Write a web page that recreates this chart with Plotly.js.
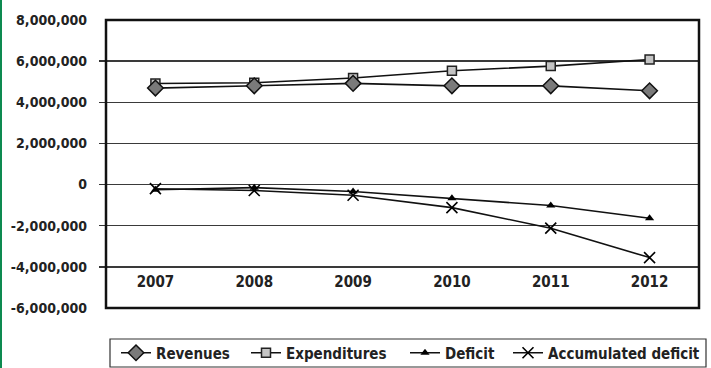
<!DOCTYPE html>
<html>
<head>
<meta charset="utf-8">
<script src="https://cdn.plot.ly/plotly-3.0.1.min.js"></script>
<style>
  html, body { margin: 0; padding: 0; background: #fff; }
  #chart { width: 711px; height: 368px; }
</style>
</head>
<body>
<div id="chart"></div>
<script>
// Budget series, 2007-2012
const years = ['2007', '2008', '2009', '2010', '2011', '2012'];
const revenues = [4690000, 4800000, 4920000, 4800000, 4800000, 4560000];
const expenditures = [4910000, 4950000, 5180000, 5530000, 5760000, 6080000];
const deficit = [-250000, -150000, -340000, -670000, -1020000, -1640000];
const accumulatedDeficit = [-200000, -290000, -520000, -1120000, -2120000, -3550000];

const yTickVals = [8000000, 6000000, 4000000, 2000000, 0, -2000000, -4000000, -6000000];
const yTickText = ['8,000,000', '6,000,000', '4,000,000', '2,000,000', '0', '-2,000,000', '-4,000,000', '-6,000,000'];
const yTickMarks = [6000000, 4000000, 2000000, 0, -2000000, -4000000];

const FONT = 'Liberation Sans Narrow, Arial Narrow, DejaVu Sans Condensed, sans-serif';
const lineStyle = { color: '#111', width: 1.6 };

// plot area in pixels
const W = 711, H = 368;
const M = { l: 106, r: 12, t: 20, b: 60 };
const PW = W - M.l - M.r, PH = H - M.t - M.b;
const px = (x) => (x - M.l) / PW;          // pixel x -> paper x
const py = (y) => (H - M.b - y) / PH;      // pixel y -> paper y

const traces = [
  {
    name: 'Expenditures', x: years, y: expenditures, type: 'scatter', mode: 'lines+markers',
    line: lineStyle, legend: 'legend2',
    marker: { symbol: 'square', size: 9, color: '#c4c4c4', line: { color: '#222', width: 1.5 } }
  },
  {
    name: 'Revenues', x: years, y: revenues, type: 'scatter', mode: 'lines+markers',
    line: lineStyle, legend: 'legend',
    marker: { symbol: 'diamond', size: 12, color: '#7a7a7a', line: { color: '#111', width: 1.5 } }
  },
  {
    name: 'Deficit', x: years, y: deficit, type: 'scatter', mode: 'lines+markers',
    line: lineStyle, legend: 'legend3',
    marker: { symbol: 'triangle-up', size: 8, color: '#000' }
  },
  {
    name: 'Accumulated deficit', x: years, y: accumulatedDeficit, type: 'scatter', mode: 'lines+markers',
    line: lineStyle, legend: 'legend4',
    marker: { symbol: 'x-thin-open', size: 11, color: '#000', line: { color: '#000', width: 1.6 } }
  }
];

const yMin = -6000000, yMax = 8000000;
const axisFont = { family: FONT, size: 14, color: '#222', weight: 'bold' };
const legendFont = { family: FONT, size: 15, color: '#222', weight: 'bold' };
const legendAt = (xPix) => ({
  orientation: 'h', x: px(xPix), xanchor: 'left', y: py(353), yanchor: 'middle',
  borderwidth: 0, bgcolor: 'rgba(0,0,0,0)', font: legendFont, itemclick: false
});

const layout = {
  width: W, height: H,
  margin: { l: M.l, r: M.r, t: M.t, b: M.b, autoexpand: false },
  paper_bgcolor: '#fff', plot_bgcolor: '#fff',
  font: axisFont,
  showlegend: true,
  legend: legendAt(116),
  legend2: legendAt(246),
  legend3: legendAt(405),
  legend4: legendAt(508),
  xaxis: {
    type: 'category', range: [-0.5, 5.5],
    anchor: 'free', position: (-4000000 - yMin) / (yMax - yMin),
    showline: false, showgrid: false, zeroline: false, ticks: '',
    ticklabelstandoff: 4,
    tickfont: { family: FONT, size: 15, color: '#222', weight: 'bold' }
  },
  yaxis: {
    range: [yMin, yMax], tickvals: yTickVals, ticktext: yTickText,
    showgrid: true, gridcolor: '#3a3a3a', gridwidth: 1.5, zeroline: false,
    ticks: '', ticklabelstandoff: 18,
    tickfont: axisFont
  },
  // tick marks only at the inner gridlines
  yaxis2: {
    overlaying: 'y', side: 'left', range: [yMin, yMax], tickvals: yTickMarks,
    showticklabels: false, showgrid: false, zeroline: false,
    ticks: 'outside', ticklen: 6, tickwidth: 1.5, tickcolor: '#333'
  },
  shapes: [
    // plot frame
    { type: 'rect', xref: 'paper', yref: 'paper', x0: 0, x1: 1, y0: 0, y1: 1,
      line: { color: '#111', width: 2.5 }, layer: 'above' },
    // legend box
    { type: 'rect', xref: 'paper', yref: 'paper', x0: px(110), x1: px(706), y0: py(367), y1: py(339),
      line: { color: '#333', width: 1.2 }, fillcolor: 'rgba(0,0,0,0)' },
    // green page edge on the left
    { type: 'rect', xref: 'paper', yref: 'paper', x0: px(0), x1: px(2),
      y0: py(H), y1: py(0), fillcolor: '#0d8a50', line: { width: 0 } }
  ]
};

// an empty trace carries the tick-mark axis
traces.push({ x: [], y: [], yaxis: 'y2', type: 'scatter', showlegend: false, hoverinfo: 'skip' });

Plotly.newPlot('chart', traces, layout, { staticPlot: true, displayModeBar: false });
</script>
</body>
</html>
